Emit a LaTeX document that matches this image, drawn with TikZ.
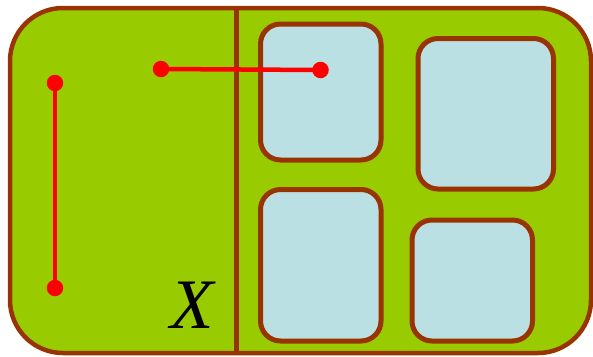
\documentclass[tikz,border=0pt]{standalone}
\usepackage{fontspec}
\setmainfont{Liberation Serif}
\definecolor{leaf}{HTML}{99CC00}
\definecolor{rust}{HTML}{993300}
\definecolor{pale}{HTML}{BBE0E3}
\definecolor{redline}{HTML}{FF0000}
\begin{document}
\begin{tikzpicture}[x=1pt,y=-1pt,
  room/.style={draw=rust,fill=pale,line width=5pt,rounded corners=20pt,rectangle,inner sep=0pt,outer sep=0pt},
  dotnode/.style={circle,fill=redline,inner sep=0pt,minimum size=16.5pt},
  link/.style={draw=redline,line width=4.5pt}]
\useasboundingbox (0,0) rectangle (593,356);
\fill[leaf,rounded corners=53pt] (10,8) rectangle (591,353);
\coordinate (dtop) at (236.5,8);
\coordinate (dbot) at (236.5,353);
\draw[rust,line width=4.5pt] (dtop) -- (dbot);
\draw[rust,line width=4.5pt,rounded corners=53pt] (10,8) rectangle (591,353);
\node[room,minimum width=120.5pt,minimum height=136pt] (b1) at (320.75,92) {};
\node[room,minimum width=135.5pt,minimum height=150.5pt] (b2) at (485.75,113.75) {};
\node[room,minimum width=120.5pt,minimum height=151.5pt] (b3) at (320.75,265.25) {};
\node[room,minimum width=120.5pt,minimum height=121pt] (b4) at (472.25,280.5) {};
\node[dotnode] (v1) at (55,83) {};
\node[dotnode] (v2) at (55,288) {};
\draw[link] (v1.center) -- (v2.center);
\node[dotnode] (h1) at (161,69) {};
\node[dotnode] (h2) at (320.5,70) {};
\draw[link] (h1.center) -- (h2.center);
\node[anchor=base,inner sep=0pt] (lab) at (192,328) {\fontsize{71}{71}\selectfont\itshape X};
\end{tikzpicture}
\end{document}
